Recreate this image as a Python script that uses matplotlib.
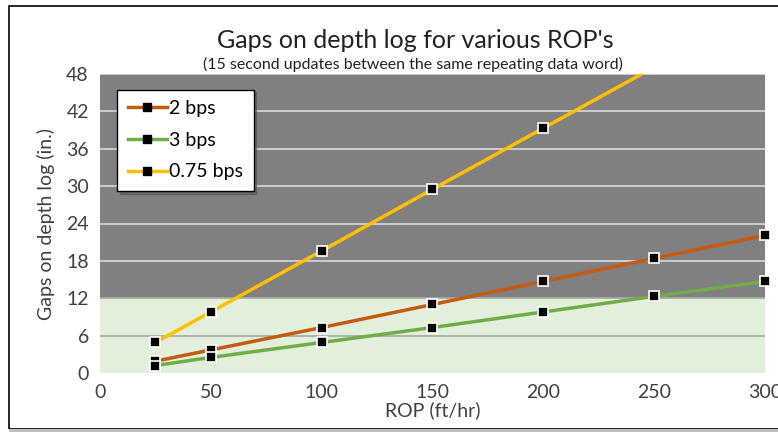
import numpy as np
from matplotlib import pyplot as plt
from matplotlib.patches import Rectangle

#
# data
#
rop = [25, 50, 100, 150, 200, 250, 300]
gap_2bps = [1.9, 3.7, 7.3, 11.0, 14.7, 18.4, 22.1]
gap_3bps = [1.2, 2.5, 4.9, 7.3, 9.8, 12.3, 14.7]
gap_075bps = [4.9, 9.8, 19.6, 29.5, 39.3, 49.1, 58.9]
series_names = ['2 bps', '3 bps', '0.75 bps']
series_colors = ['#C55A11', '#70AD47', '#FFC000']
yticks = [0, 6, 12, 18, 24, 30, 36, 42, 48]
xticks = [0, 50, 100, 150, 200, 250, 300]

plt.rcParams['font.family'] = ['Lato', 'DejaVu Sans']

fig = plt.figure(figsize=(7.78, 4.32), dpi=100)
ax = fig.add_axes([100/778, 1 - 373/432, 665/778, 299/432])

# chart frame
fig.patches.append(Rectangle((9/778, 3/432), 1.0, 423/432, transform=fig.transFigure,
                             fill=False, edgecolor='black', linewidth=1.2))
fig.patches.append(Rectangle((9/778, 0), 1.0, 3/432, transform=fig.transFigure,
                             facecolor='#BFBFBF', edgecolor='none'))

# background bands
ax.axhspan(12, 48, color='#808080', zorder=0)
ax.axhspan(0, 12, color='#E2EFDA', zorder=0)
for t in yticks[1:]:
    ax.axhline(t, color='#D9D9D9' if t > 12 else '#A6A6A6', linewidth=1.2, zorder=1)

handles = []
for ys, name, col in zip([gap_2bps, gap_3bps, gap_075bps], series_names, series_colors):
    ys = np.array(ys)
    ax.plot(rop, ys, color=col, linewidth=2.5, zorder=2)
    keep = ys <= 48
    ax.plot(np.array(rop)[keep], ys[keep], linestyle='none', marker='s', markersize=7,
            markerfacecolor='black', markeredgecolor='white', markeredgewidth=1.2,
            zorder=3, clip_on=False)
    h, = ax.plot([], [], color=col, linewidth=2.5, marker='s', markersize=6,
                 markerfacecolor='black', markeredgecolor='black', label=name)
    handles.append(h)

ax.set_xlim(0, 300)
ax.set_ylim(0, 48)
ax.set_xticks(xticks)
ax.set_yticks(yticks)
ax.tick_params(length=0, labelsize=14, colors='#404040', pad=8)
for s in ax.spines.values():
    s.set_visible(False)

ax.set_xlabel('ROP (ft/hr)', fontsize=14, color='#404040', labelpad=0)
ax.set_ylabel('Gaps on depth log (in.)', fontsize=14, color='#404040', labelpad=8)

leg = ax.legend(handles=handles, loc='upper left', bbox_to_anchor=(0.026, 0.948),
                fontsize=14, frameon=True, fancybox=False, shadow=True,
                handlelength=2.0, handletextpad=0.1, borderpad=0.55, labelspacing=0.75,
                borderaxespad=0)
leg.get_frame().set_edgecolor('black')
leg.get_frame().set_linewidth(1.0)
leg.get_frame().set_facecolor('white')
leg.get_frame().set_alpha(1)

fig.text(415/778, 1 - 40/432, "Gaps on depth log for various ROP's", ha='center', va='center',
         fontsize=18, color='#222222')
fig.text(413/778, 1 - 64/432, '(15 second updates between the same repeating data word)',
         ha='center', va='center', fontsize=11.5, color='#222222')

plt.savefig('out.png', dpi=100)
